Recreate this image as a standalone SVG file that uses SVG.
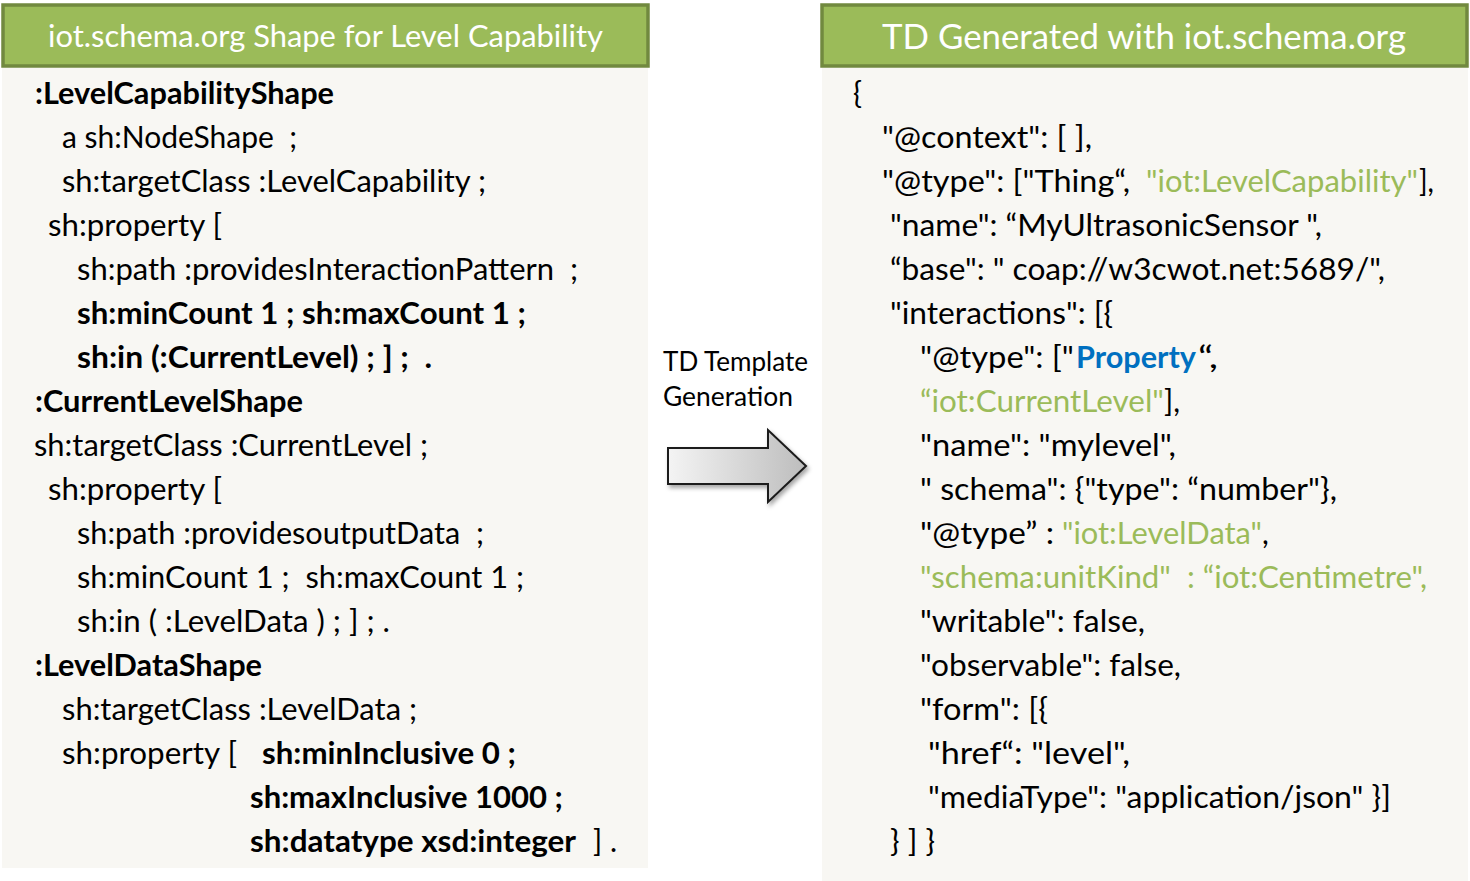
<svg xmlns="http://www.w3.org/2000/svg" width="1470" height="881" viewBox="0 0 1470 881">
<style>
text{font-family:Lato,"Open Sans","Liberation Sans",sans-serif;white-space:pre}
.t{font-size:30px;fill:#000}
.b{font-weight:bold}
.g{fill:#9bbb59}
.bl{fill:#0070c0;font-weight:bold}
.hd{fill:#9bbb59;stroke:#71893f;stroke-width:3.5}
.hdt{fill:#fff}
.pn{fill:#f8f7f3}
</style>
<defs>
<linearGradient id="ag" x1="0" y1="0" x2="1" y2="0">
<stop offset="0" stop-color="#f4f4f4"/>
<stop offset="1" stop-color="#bdbdbd"/>
</linearGradient>
<filter id="sh" x="-20%" y="-20%" width="140%" height="150%">
<feDropShadow dx="2" dy="3" stdDeviation="2" flood-color="#000" flood-opacity="0.35"/>
</filter>
</defs>
<rect width="1470" height="881" fill="#fff"/>

<g id="left-panel">
<rect class="pn" x="2" y="68" width="646" height="800"/>
<rect class="hd" x="3" y="5" width="645" height="61"/>
<text class="hdt" x="48" y="47" font-size="30" textLength="555" lengthAdjust="spacingAndGlyphs">iot.schema.org Shape for Level Capability</text>
<text class="t b" x="35" y="104" textLength="299" lengthAdjust="spacingAndGlyphs">:LevelCapabilityShape</text>
<text class="t" x="62" y="148" textLength="235" lengthAdjust="spacingAndGlyphs">a sh:NodeShape  ;</text>
<text class="t" x="62" y="192" textLength="424" lengthAdjust="spacingAndGlyphs">sh:targetClass :LevelCapability ;</text>
<text class="t" x="48" y="236" textLength="174" lengthAdjust="spacingAndGlyphs">sh:property [</text>
<text class="t" x="77" y="280" textLength="501" lengthAdjust="spacingAndGlyphs">sh:path :providesInteractionPattern  ;</text>
<text class="t b" x="77" y="324" textLength="449" lengthAdjust="spacingAndGlyphs">sh:minCount 1 ; sh:maxCount 1 ;</text>
<text class="t b" x="77" y="368" textLength="355" lengthAdjust="spacingAndGlyphs">sh:in (:CurrentLevel) ; ] ;  .</text>
<text class="t b" x="35" y="412" textLength="268" lengthAdjust="spacingAndGlyphs">:CurrentLevelShape</text>
<text class="t" x="34" y="456" textLength="394" lengthAdjust="spacingAndGlyphs">sh:targetClass :CurrentLevel ;</text>
<text class="t" x="48" y="500" textLength="174" lengthAdjust="spacingAndGlyphs">sh:property [</text>
<text class="t" x="77" y="544" textLength="407" lengthAdjust="spacingAndGlyphs">sh:path :providesoutputData  ;</text>
<text class="t" x="77" y="588" textLength="447" lengthAdjust="spacingAndGlyphs">sh:minCount 1 ;  sh:maxCount 1 ;</text>
<text class="t" x="77" y="632" textLength="313" lengthAdjust="spacingAndGlyphs">sh:in ( :LevelData ) ; ] ; .</text>
<text class="t b" x="35" y="676" textLength="227" lengthAdjust="spacingAndGlyphs">:LevelDataShape</text>
<text class="t" x="62" y="720" textLength="355" lengthAdjust="spacingAndGlyphs">sh:targetClass :LevelData ;</text>
<text class="t" x="62" y="764" textLength="175" lengthAdjust="spacingAndGlyphs">sh:property [</text>
<text class="t b" x="262" y="764" textLength="254" lengthAdjust="spacingAndGlyphs">sh:minInclusive 0 ;</text>
<text class="t b" x="250" y="808" textLength="313" lengthAdjust="spacingAndGlyphs">sh:maxInclusive 1000 ;</text>
<text class="t b" x="250" y="852" textLength="326" lengthAdjust="spacingAndGlyphs">sh:datatype xsd:integer</text>
<text class="t" x="593" y="852" textLength="24" lengthAdjust="spacingAndGlyphs">] .</text>
</g>

<g id="transform-label">
<text x="663" y="371" font-size="26" fill="#000" textLength="145" lengthAdjust="spacingAndGlyphs">TD Template</text>
<text x="663" y="406" font-size="26" fill="#000" textLength="130" lengthAdjust="spacingAndGlyphs">Generation</text>
</g>

<g id="connectors">
<path d="M668,448 L768,448 L768,430 L806,466 L768,502 L768,484 L668,484 Z" fill="url(#ag)" stroke="#1a1a1a" stroke-width="2" stroke-linejoin="miter" filter="url(#sh)"/>
</g>

<g id="right-panel">
<rect class="pn" x="822" y="68" width="646" height="813"/>
<rect class="hd" x="822" y="5" width="645" height="61"/>
<text class="hdt" x="882" y="49" font-size="34" textLength="524" lengthAdjust="spacingAndGlyphs">TD Generated with iot.schema.org</text>
<text class="t" x="853" y="104">{</text>
<text class="t" x="882" y="148" textLength="210" lengthAdjust="spacingAndGlyphs">"@context": [ ],</text>
<text class="t" x="882" y="192" textLength="248" lengthAdjust="spacingAndGlyphs">"@type": ["Thing“,</text>
<text class="t g" x="1146" y="192" textLength="272" lengthAdjust="spacingAndGlyphs">"iot:LevelCapability"</text>
<text class="t" x="1419" y="192" textLength="15" lengthAdjust="spacingAndGlyphs">],</text>
<text class="t" x="890" y="236" textLength="432" lengthAdjust="spacingAndGlyphs">"name": “MyUltrasonicSensor ",</text>
<text class="t" x="890" y="280" textLength="495" lengthAdjust="spacingAndGlyphs">“base": " coap://w3cwot.net:5689/",</text>
<text class="t" x="890" y="324" textLength="223" lengthAdjust="spacingAndGlyphs">"interactions": [{</text>
<text class="t" x="920" y="368" textLength="154" lengthAdjust="spacingAndGlyphs">"@type": ["</text>
<text class="t bl" x="1076" y="368" textLength="120" lengthAdjust="spacingAndGlyphs">Property</text>
<text class="t" x="1198" y="368" textLength="20" lengthAdjust="spacingAndGlyphs">“,</text>
<text class="t g" x="920" y="412" textLength="244" lengthAdjust="spacingAndGlyphs">“iot:CurrentLevel"</text>
<text class="t" x="1164" y="412" textLength="16" lengthAdjust="spacingAndGlyphs">],</text>
<text class="t" x="920" y="456" textLength="256" lengthAdjust="spacingAndGlyphs">"name": "mylevel",</text>
<text class="t" x="920" y="500" textLength="417" lengthAdjust="spacingAndGlyphs">" schema": {"type": “number"},</text>
<text class="t" x="920" y="544" textLength="134" lengthAdjust="spacingAndGlyphs">"@type” :</text>
<text class="t g" x="1062" y="544" textLength="200" lengthAdjust="spacingAndGlyphs">"iot:LevelData"</text>
<text class="t" x="1262" y="544">,</text>
<text class="t g" x="920" y="588" textLength="507" lengthAdjust="spacingAndGlyphs">"schema:unitKind"  : “iot:Centimetre",</text>
<text class="t" x="920" y="632" textLength="225" lengthAdjust="spacingAndGlyphs">"writable": false,</text>
<text class="t" x="920" y="676" textLength="261" lengthAdjust="spacingAndGlyphs">"observable": false,</text>
<text class="t" x="920" y="720" textLength="128" lengthAdjust="spacingAndGlyphs">"form": [{</text>
<text class="t" x="928" y="764" textLength="202" lengthAdjust="spacingAndGlyphs">"href“: "level",</text>
<text class="t" x="928" y="808" textLength="463" lengthAdjust="spacingAndGlyphs">"mediaType": "application/json" }]</text>
<text class="t" x="890" y="852" textLength="45" lengthAdjust="spacingAndGlyphs">} ] }</text>
</g>
</svg>
